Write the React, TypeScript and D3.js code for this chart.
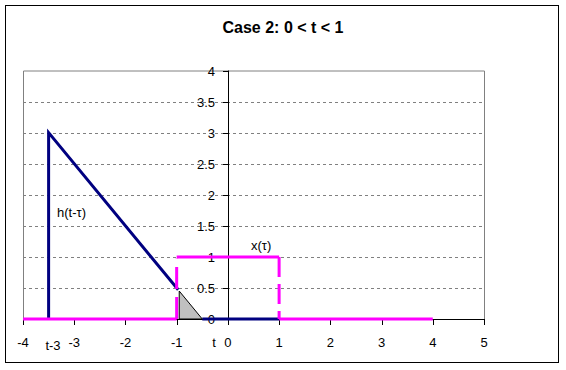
import React from "react";
import * as d3 from "d3";

const xTicks = [-4, -3, -2, -1, 0, 1, 2, 3, 4, 5];
const yTicks = [0, 0.5, 1, 1.5, 2, 2.5, 3, 3.5, 4];
const yTickLabels = ["0", "0.5", "1", "1.5", "2", "2.5", "3", "3.5", "4"];

// h(t-tau) series (navy), null = gap
const hX: (number | null)[] = [-3.5, -3.5, -0.97, null, -0.5, 1];
const hY: (number | null)[] = [0, 3, 0.47, null, 0, 0];

// x(tau) solid pieces (magenta)
const xSolidX = [[-4, -1], [-1, 1], [1, 4]];
const xSolidY = [[0, 0], [1, 1], [0, 0]];
// x(tau) dashed verticals
const xDashX = [[-1, -1], [1, 1]];
const xDashY = [[0, 0.97], [1, 0]];

// shaded overlap triangle
const triX = [-0.95, -0.95, -0.5];
const triY = [0.45, 0, 0];

export default function App() {
  const W = 566, H = 370;
  const x = d3.scaleLinear().domain([-4, 5]).range([23, 484]);
  const y = d3.scaleLinear().domain([0, 4]).range([319, 70.5]);
  const font = "'Liberation Sans', Arial, sans-serif";

  const hPts = hX.map((v, i) => [v, hY[i]] as [number | null, number | null]);
  const hLine = d3
    .line<[number | null, number | null]>()
    .defined((d) => d[0] !== null)
    .x((d) => x(d[0] as number))
    .y((d) => y(d[1] as number));

  const seg = d3
    .line<[number, number]>()
    .x((d) => x(d[0]))
    .y((d) => y(d[1]));

  const triPts = triX.map((v, i) => [v, triY[i]] as [number, number]);

  return (
    <svg
      width={W}
      height={H}
      style={{ position: "absolute", left: 0, top: 0, background: "#fff" }}
    >
      <rect x={5.5} y={5.5} width={553} height={357} fill="#fff" stroke="#000" />
      <text
        x={283}
        y={33}
        textAnchor="middle"
        fontFamily={font}
        fontWeight="bold"
        fontSize={16}
      >
        Case 2: 0 &lt; t &lt; 1
      </text>

      {/* plot area frame */}
      <path
        d={`M${x(-4) + 0.5},${y(0)} V${y(4) + 0.5} H${x(5) + 0.5} V${y(0)}`}
        fill="none"
        stroke="#808080"
      />
      {/* gridlines */}
      {yTicks.slice(1, -1).map((t) => (
        <line
          key={t}
          x1={x(-4)}
          x2={x(5)}
          y1={Math.round(y(t)) + 0.5}
          y2={Math.round(y(t)) + 0.5}
          stroke="#808080"
          strokeDasharray="3,3"
        />
      ))}

      {/* y axis at x=0 */}
      <line
        x1={Math.round(x(0)) + 0.5}
        x2={Math.round(x(0)) + 0.5}
        y1={y(0)}
        y2={y(4)}
        stroke="#000"
      />
      {yTicks.map((t, i) => (
        <g key={t}>
          <line
            x1={Math.round(x(0)) - 5}
            x2={Math.round(x(0))}
            y1={Math.round(y(t)) + 0.5}
            y2={Math.round(y(t)) + 0.5}
            stroke="#000"
          />
          <text
            x={Math.round(x(0)) - 13}
            y={y(t) + 5}
            textAnchor="end"
            fontFamily={font}
            fontSize={13}
          >
            {yTickLabels[i]}
          </text>
        </g>
      ))}

      {/* x axis */}
      <line x1={x(-4)} x2={x(5)} y1={y(0) + 0.5} y2={y(0) + 0.5} stroke="#000" />
      {xTicks.map((t) => (
        <g key={t}>
          <line
            x1={Math.round(x(t)) + 0.5}
            x2={Math.round(x(t)) + 0.5}
            y1={y(0)}
            y2={y(0) + 6}
            stroke="#000"
          />
          <text
            x={x(t)}
            y={347}
            textAnchor="middle"
            fontFamily={font}
            fontSize={13}
          >
            {String(t)}
          </text>
        </g>
      ))}

      {/* h(t-tau) */}
      <path d={hLine(hPts) || ""} fill="none" stroke="#000080" strokeWidth={3} />

      {/* x(tau) */}
      {xSolidX.map((xs, i) => (
        <path
          key={"s" + i}
          d={seg(xs.map((v, j) => [v, xSolidY[i][j]] as [number, number])) || ""}
          fill="none"
          stroke="#FF00FF"
          strokeWidth={3}
        />
      ))}
      {xDashX.map((xs, i) => (
        <path
          key={"d" + i}
          d={seg(xs.map((v, j) => [v, xDashY[i][j]] as [number, number])) || ""}
          fill="none"
          stroke="#FF00FF"
          strokeWidth={3}
          strokeDasharray={i === 0 ? "22,8" : "20,7"}
        />
      ))}

      {/* overlap */}
      <path d={(seg(triPts) || "") + "Z"} fill="#C0C0C0" stroke="#000" strokeWidth={1} />

      {/* annotations */}
      <text x={57} y={217} fontFamily={font} fontSize={13}>
        h(t-τ)
      </text>
      <text x={251} y={250} fontFamily={font} fontSize={13}>
        x(τ)
      </text>
      <text x={53} y={350} textAnchor="middle" fontFamily={font} fontSize={13}>
        t-3
      </text>
      <text x={214} y={347} textAnchor="middle" fontFamily={font} fontSize={13}>
        t
      </text>
    </svg>
  );
}
